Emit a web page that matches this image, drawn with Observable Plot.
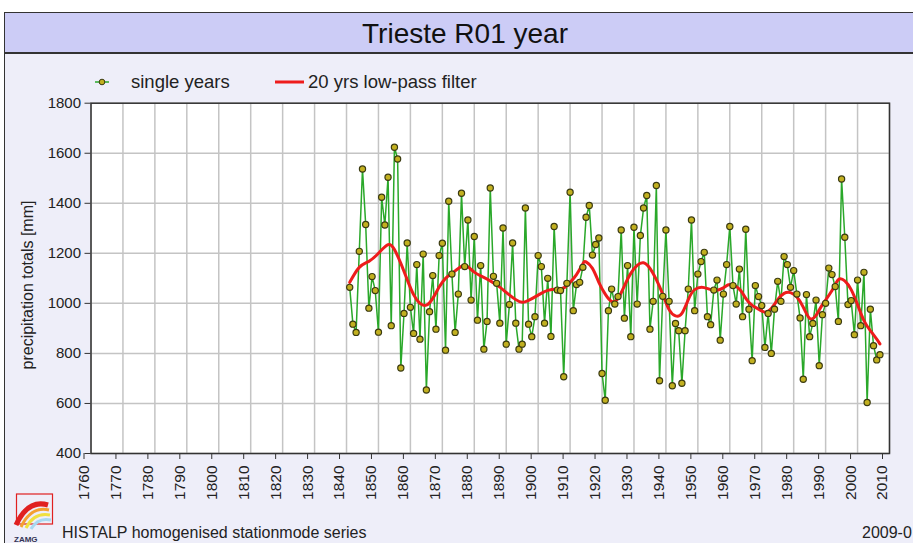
<!DOCTYPE html>
<html><head><meta charset="utf-8">
<script src="https://cdn.jsdelivr.net/npm/d3@7"></script>
<script src="https://cdn.jsdelivr.net/npm/@observablehq/plot@0.6"></script>
<style>
html,body{margin:0;padding:0;background:#fff;}
#page{position:relative;width:913px;height:543px;overflow:hidden;font-family:"Liberation Sans",Arial,sans-serif;color:#111;}
#frame{position:absolute;left:4px;top:12px;width:909px;height:531px;background:#EEEEF9;border-left:1.5px solid #333;border-top:1.5px solid #333;}
#title{position:absolute;left:5px;top:13px;width:908px;height:41px;background:#CCCCF6;border-bottom:2px solid #333;text-align:center;font-size:28px;line-height:41px;padding-left:12px;box-sizing:border-box;}
#chart{position:absolute;left:0;top:92px;}
.leg{position:absolute;font-size:18.5px;line-height:20px;top:72px;color:#222;}
#ylab{position:absolute;left:28px;top:285px;transform:translate(-50%,-50%) rotate(-90deg);font-size:16px;white-space:nowrap;color:#222;}
#foot{position:absolute;left:62px;top:524px;font-size:16px;line-height:18px;white-space:nowrap;color:#222;}
#date{position:absolute;left:862px;top:524px;font-size:16px;line-height:18px;white-space:nowrap;color:#222;}
#logo{position:absolute;left:0;top:485px;}
</style>
</head><body>
<div id="page">
  <div id="frame"></div>
  <div id="title">Trieste R01 year</div>
  <svg style="position:absolute;left:94px;top:74px" width="16" height="16">
    <line x1="1" y1="8" x2="15" y2="8" stroke="#2aa82a" stroke-width="1.5"/>
    <circle cx="8" cy="8" r="2.8" fill="#c2b020" stroke="#3a3a10"/>
  </svg>
  <div class="leg" style="left:131px">single years</div>
  <svg style="position:absolute;left:274px;top:74px" width="32" height="16">
    <line x1="1" y1="8" x2="30" y2="8" stroke="#ee1c1c" stroke-width="3"/>
  </svg>
  <div class="leg" style="left:308px">20 yrs low-pass filter</div>
  <div id="ylab">precipitation totals [mm]</div>
  <div id="chart"></div>
  <svg id="logo" width="60" height="58">
    <rect x="16.5" y="9" width="36" height="30" fill="none" stroke="#e02020" stroke-width="1.2"/>
    <path d="M16,40 Q28,14 48,20" fill="none" stroke="#e02020" stroke-width="5"/>
    <path d="M21,42 Q31,21 49,25" fill="none" stroke="#f4a030" stroke-width="3"/>
    <path d="M26,43 Q34,27 50,30" fill="none" stroke="#f0e040" stroke-width="3"/>
    <path d="M31,44 Q38,32 51,35" fill="none" stroke="#a8d8f0" stroke-width="3"/>
    <text x="14" y="57" font-size="8" font-weight="bold" fill="#335" font-family="Liberation Sans, Arial">ZAMG</text>
  </svg>
  <div id="foot">HISTALP homogenised stationmode series</div>
  <div id="date">2009-0</div>
</div>
<script>
// single years
const years = d3.range(1841, 2008);
const precip = [
1064,917,884,1208,1537,1315,981,1107,1051,885,
1424,1313,1504,911,1624,1577,742,960,1241,984,
880,1155,857,1197,654,967,1111,897,1191,1240,
813,1408,1117,884,1037,1440,1147,1333,1013,1267,
933,1151,817,928,1461,1108,1080,921,1301,837,
995,1241,921,817,837,1381,917,867,947,1191,
1147,921,1100,868,1307,1053,1051,707,1080,1444,
971,1075,1084,1144,1344,1391,1193,1235,1261,720,
613,971,1057,997,1027,1293,941,1151,867,1304,
997,1271,1381,1431,897,1008,1471,691,1028,1293,
1008,671,920,891,681,891,1057,1333,971,1117,
1167,1204,947,915,1053,1093,853,1037,1155,1307,
1071,997,1137,947,1296,977,771,1071,1027,991,
824,960,800,977,1088,1008,1187,1155,1064,1131,
1037,942,697,1035,867,920,1013,751,955,1000,
1141,1115,1067,928,1497,1264,995,1011,875,1093,
911,1124,604,977,831,774,795];

// 20 yrs low-pass filter
const filterYears = [1841,1844,1847,1850,1853,1855,1857,1859,1861,1863,1865,1867,1869,1871,1873,1876,1878,1880,1882,1885,1888,1890,1893,1895,1897,1900,1903,1906,1908,1910,1912,1914,1915,1917,1919,1921,1923,1925,1927,1929,1931,1933,1935,1937,1939,1941,1943,1945,1947,1949,1952,1955,1958,1960,1963,1965,1967,1969,1971,1973,1975,1977,1979,1981,1983,1985,1987,1989,1992,1994,1996,1998,2000,2002,2004,2006,2007];
const filterValues = [1084,1144,1168,1200,1235,1215,1160,1095,1035,1000,993,1020,1065,1100,1120,1148,1146,1125,1110,1090,1065,1044,1015,1004,1012,1033,1052,1057,1062,1084,1115,1158,1166,1140,1084,1037,1008,1020,1070,1120,1152,1162,1140,1095,1037,975,950,960,1015,1055,1063,1052,1062,1075,1057,1020,992,977,965,980,1015,1040,1043,1025,985,940,952,995,1051,1095,1090,1055,995,931,891,857,838];

const xTicks = d3.range(1760, 2011, 10);
const yTicks = d3.range(400, 1801, 200);

const single = years.map((y, i) => ({year: y, value: precip[i]}));
const filt = filterYears.map((y, i) => ({year: y, value: filterValues[i]}));

const chart = Plot.plot({
  width: 913,
  height: 451,
  marginTop: 10.7,
  marginBottom: 90,
  marginLeft: 90.5,
  marginRight: 24,
  style: {fontFamily: "Liberation Sans, Arial, sans-serif", background: "transparent", color: "#222", overflow: "visible"},
  x: {domain: [1760, 2010]},
  y: {domain: [400, 1800]},
  marks: [
    Plot.frame({fill: "white", stroke: null}),
    Plot.gridX(xTicks, {stroke: "#c4c4c4", strokeOpacity: 1, strokeWidth: 1.5}),
    Plot.gridY(yTicks, {stroke: "#c4c4c4", strokeOpacity: 1, strokeWidth: 1.5}),
    Plot.line(single, {x: "year", y: "value", stroke: "#2aa82a", strokeWidth: 1.5}),
    Plot.line(filt, {x: "year", y: "value", stroke: "#ee1c1c", strokeWidth: 3, curve: "natural"}),
    Plot.dot(single, {x: "year", y: "value", r: 3.1, fill: "#c2b020", stroke: "#3a3a10", strokeWidth: 1.2}),
    Plot.frame({stroke: "#333", strokeWidth: 1.5}),
    Plot.axisY(yTicks, {tickSize: 6, tickPadding: 4, fontSize: 15, label: null, stroke: "#333", tickFormat: d => String(d)}),
    Plot.axisX(xTicks, {tickRotate: -90, tickSize: 6, tickPadding: 6, fontSize: 15.5, label: null, stroke: "#333", tickFormat: d => String(d), dx: -7})
  ]
});
document.getElementById("chart").appendChild(chart);
</script>
</body></html>
